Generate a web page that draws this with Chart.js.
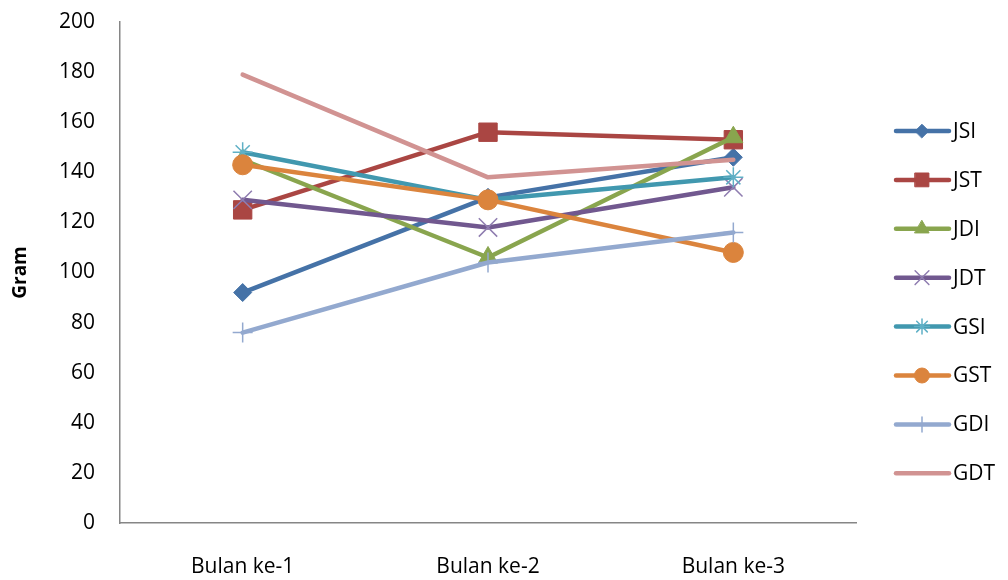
<!DOCTYPE html>
<html>
<head>
<meta charset="utf-8">
<script src="https://cdn.jsdelivr.net/npm/chart.js@4/dist/chart.umd.min.js"></script>
<style>
  html, body { margin: 0; padding: 0; background: #ffffff; }
  #wrap { width: 1008px; height: 580px; position: relative; }
</style>
</head>
<body>
<div id="wrap"><canvas id="c" width="1008" height="580"></canvas></div>
<script>
// Months on the x axis
const categories = ['Bulan ke-1', 'Bulan ke-2', 'Bulan ke-3'];
// Weight (gram) per treatment group
const JSI = [92, 130, 146];
const JST = [125, 156, 153];
const JDI = [145, 106, 154];
const JDT = [129, 118, 134];
const GSI = [148, 129, 138];
const GST = [143, 129, 108];
const GDI = [76, 104, 116];
const GDT = [179, 138, 145];
const yTicks = [0, 20, 40, 60, 80, 100, 120, 140, 160, 180, 200];

const FONT = '"Open Sans", "Liberation Sans", sans-serif';
const TICK_SIZE = 21;

const seriesDefs = [
  { label: 'JSI', data: JSI, color: '#4572A7', style: 'rectRot', r: 9, mColor: '#4572A7', mWidth: 1 },
  { label: 'JST', data: JST, color: '#AA4643', style: 'rect', r: 13, mColor: '#AA4643', mWidth: 1 },
  { label: 'JDI', data: JDI, color: '#89A54E', style: 'triangle', r: 11, mColor: '#89A54E', mWidth: 1 },
  { label: 'JDT', data: JDT, color: '#71588F', style: 'crossRot', r: 13, mColor: '#8F7DB0', mWidth: 1.5 },
  { label: 'GSI', data: GSI, color: '#4198AF', style: 'star', r: 10, mColor: '#5FB0C6', mWidth: 1.5 },
  { label: 'GST', data: GST, color: '#DB843D', style: 'circle', r: 10, mColor: '#DB843D', mWidth: 1 },
  { label: 'GDI', data: GDI, color: '#93A9CF', style: 'cross', r: 10, mColor: '#93A9CF', mWidth: 1.5 },
  { label: 'GDT', data: GDT, color: '#D19392', style: false, r: 0, mColor: '#D19392', mWidth: 1 }
];

const datasets = seriesDefs.map((s, i) => ({
  label: s.label,
  data: s.data,
  borderColor: s.color,
  backgroundColor: s.color,
  borderWidth: 4.5,
  borderCapStyle: 'round',
  borderJoinStyle: 'round',
  tension: 0,
  pointStyle: s.style,
  pointRadius: s.r,
  pointHoverRadius: s.r,
  pointBackgroundColor: s.mColor,
  pointBorderColor: s.mColor,
  pointBorderWidth: s.mWidth,
  order: seriesDefs.length - 1 - i
}));

// Legend drawn at the right: line sample with marker, then the label
const sideLegend = {
  id: 'sideLegend',
  afterDraw(chart) {
    const ctx = chart.ctx;
    ctx.save();
    seriesDefs.forEach((s, i) => {
      const y = 131 + i * 48.9;
      ctx.strokeStyle = s.color;
      ctx.lineWidth = 4.5;
      ctx.lineCap = 'round';
      ctx.beginPath();
      ctx.moveTo(896, y);
      ctx.lineTo(949, y);
      ctx.stroke();
      if (s.style) {
        ctx.fillStyle = s.mColor;
        ctx.strokeStyle = s.mColor;
        ctx.lineWidth = s.mWidth;
        Chart.helpers.drawPoint(ctx, { pointStyle: s.style, radius: s.r * 0.75, borderWidth: s.mWidth }, 922, y);
      }
      ctx.fillStyle = '#000000';
      ctx.font = TICK_SIZE + 'px ' + FONT;
      ctx.textAlign = 'left';
      ctx.textBaseline = 'middle';
      ctx.fillText(s.label, 953, y + 1);
    });
    ctx.restore();
  }
};

new Chart(document.getElementById('c'), {
  type: 'line',
  data: { labels: categories, datasets: datasets },
  options: {
    responsive: false,
    animation: false,
    layout: { padding: { left: 0, right: 152, top: 22, bottom: 0 } },
    plugins: { legend: { display: false }, tooltip: { enabled: false } },
    scales: {
      x: {
        offset: true,
        grid: { display: false, drawTicks: false },
        border: { display: true, color: '#868686', width: 1.5 },
        ticks: { color: '#000000', font: { size: TICK_SIZE, family: FONT }, padding: 31 },
        afterFit(scale) { scale.height = 57; scale.paddingLeft = 0; scale.paddingRight = 0; }
      },
      y: {
        min: 0,
        max: 200,
        afterBuildTicks(scale) { scale.ticks = yTicks.map(v => ({ value: v })); },
        grid: { display: false, drawTicks: false },
        border: { display: true, color: '#868686', width: 1.5 },
        ticks: { color: '#000000', font: { size: TICK_SIZE, family: FONT }, padding: 25 },
        title: { display: true, text: 'Gram', color: '#000000', font: { size: 19, weight: 'bold', family: FONT }, padding: { top: 9, bottom: 10 } },
        afterFit(scale) { scale.width = 120; scale.paddingTop = 0; scale.paddingBottom = 0; }
      }
    }
  },
  plugins: [sideLegend]
});
</script>
</body>
</html>
